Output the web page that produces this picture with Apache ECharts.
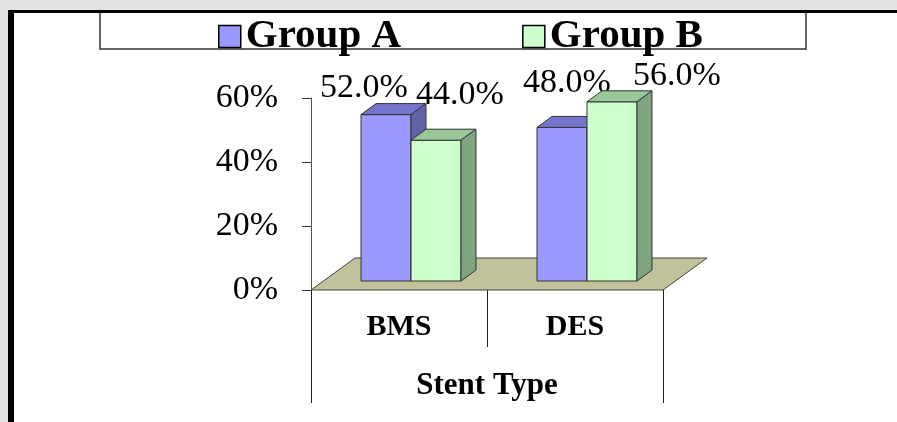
<!DOCTYPE html>
<html>
<head>
<meta charset="utf-8">
<title>Stent Type</title>
<script src="https://cdn.jsdelivr.net/npm/echarts@6/dist/echarts.min.js"></script>
<style>
  html, body { margin: 0; padding: 0; background: #fff; }
  #main { width: 897px; height: 422px; }
</style>
</head>
<body>
<div id="main"></div>
<script>
// data
const categories = ['BMS', 'DES'];
const groupNames = ['Group A', 'Group B'];
const groupA = [52.0, 48.0];
const groupB = [44.0, 56.0];
const yTicks = [0, 20, 40, 60];
const axisTitle = 'Stent Type';

// label nudges, relative to the top front-left corner of each bar
const labelNudgeA = [[3, -27], [30, -44]];
const labelNudgeB = [[49, -45], [90, -26]];

const SERIF = '"Liberation Serif", "Times New Roman", serif';
const EDGE = '#333';

const chart = echarts.init(document.getElementById('main'), null, { renderer: 'canvas' });

function makeBar(faces, slot, nudges) {
  return function (params, api) {
    const i = api.value(0);
    const v = api.value(1);
    const base = api.coord([i, 0]);
    const top = api.coord([i, v]);
    const band = api.size([1, 0])[0];
    const w = band * 0.284;
    const sx = 12, sy = -9;   // bars sit part way back on the floor
    const dx = 15, dy = -11;  // depth of a bar
    const x0 = base[0] - w + slot * w + sx;
    const x1 = x0 + w;
    const yb = base[1] + sy;
    const yt = top[1] + sy;
    const nd = nudges[params.dataIndex];
    return {
      type: 'group',
      children: [
        { type: 'polygon', shape: { points: [[x0, yb], [x1, yb], [x1, yt], [x0, yt]] },
          style: { fill: faces[0], stroke: EDGE, lineWidth: 1 } },
        { type: 'polygon', shape: { points: [[x0, yt], [x1, yt], [x1 + dx, yt + dy], [x0 + dx, yt + dy]] },
          style: { fill: faces[1], stroke: EDGE, lineWidth: 1 } },
        { type: 'polygon', shape: { points: [[x1, yb], [x1 + dx, yb + dy], [x1 + dx, yt + dy], [x1, yt]] },
          style: { fill: faces[2], stroke: EDGE, lineWidth: 1 } },
        { type: 'text', x: x0 + nd[0], y: yt + nd[1], z2: 10,
          style: { text: v.toFixed(1) + '%', fill: '#000', fontSize: 34, fontFamily: SERIF,
                   align: 'center', verticalAlign: 'middle' } }
      ]
    };
  };
}

function renderFloor(params, api) {
  const cs = params.coordSys;
  const y = cs.y + cs.height;
  const dx = 44, dy = -32;
  return {
    type: 'polygon',
    shape: { points: [[cs.x, y], [cs.x + cs.width, y], [cs.x + cs.width + dx, y + dy], [cs.x + dx, y + dy]] },
    style: { fill: '#c1c19b', stroke: '#444', lineWidth: 1 }
  };
}

const option = {
  animation: false,
  graphic: [
    { type: 'rect', shape: { x: 0, y: 0, width: 897, height: 10 }, style: { fill: '#e3e3e3' }, z: 100 },
    { type: 'rect', shape: { x: 0, y: 0, width: 8, height: 422 }, style: { fill: '#e3e3e3' }, z: 100 },
    { type: 'rect', shape: { x: 100, y: 12, width: 706, height: 37 }, style: { fill: 'none', stroke: '#333', lineWidth: 1.5 }, z: 0 },
    { type: 'rect', shape: { x: 8, y: 10, width: 889, height: 3 }, style: { fill: '#000' }, z: 101 },
    { type: 'rect', shape: { x: 8, y: 10, width: 6, height: 412 }, style: { fill: '#000' }, z: 101 }
  ],
  legend: {
    data: groupNames,
    left: 213,
    top: 11,
    icon: 'rect',
    itemWidth: 22,
    itemHeight: 22,
    itemGap: 121,
    itemStyle: { borderColor: '#000', borderWidth: 1.5 },
    textStyle: { fontFamily: SERIF, fontWeight: 'bold', fontSize: 41, color: '#000' }
  },
  grid: { left: 311, top: 98, width: 352, height: 192 },
  xAxis: [
    {
      type: 'category',
      data: categories,
      position: 'bottom',
      axisLine: { show: false },
      axisTick: { show: true, interval: 0, length: 57, lineStyle: { color: '#222', width: 1 } },
      axisLabel: { margin: 22, fontFamily: SERIF, fontWeight: 'bold', fontSize: 30, color: '#000' }
    },
    {
      type: 'category',
      data: [axisTitle],
      position: 'bottom',
      axisLine: { show: false },
      axisTick: { show: true, interval: 0, length: 113, lineStyle: { color: '#222', width: 1 } },
      axisLabel: { margin: 80, fontFamily: SERIF, fontWeight: 'bold', fontSize: 31, color: '#000' }
    }
  ],
  yAxis: {
    type: 'value',
    min: yTicks[0],
    max: yTicks[yTicks.length - 1],
    interval: yTicks[1] - yTicks[0],
    splitLine: { show: false },
    axisLine: { show: true, lineStyle: { color: '#555', width: 1 } },
    axisTick: { show: true, length: 9, lineStyle: { color: '#333' } },
    axisLabel: { margin: 33, formatter: '{value}%', fontFamily: SERIF, fontSize: 34, color: '#000' }
  },
  series: [
    {
      type: 'custom',
      name: 'floor',
      silent: true,
      renderItem: renderFloor,
      data: [[0, 0]],
      z: 1
    },
    {
      type: 'custom',
      name: groupNames[0],
      itemStyle: { color: '#9999ff' },
      renderItem: makeBar(['#9999ff', '#7474cc', '#6262a8'], 0, labelNudgeA),
      encode: { x: 0, y: 1 },
      data: groupA.map((v, i) => [i, v]),
      z: 2
    },
    {
      type: 'custom',
      name: groupNames[1],
      itemStyle: { color: '#ccffcc' },
      renderItem: makeBar(['#ccffcc', '#99c799', '#80a480'], 1, labelNudgeB),
      encode: { x: 0, y: 1 },
      data: groupB.map((v, i) => [i, v]),
      z: 3
    }
  ]
};

chart.setOption(option);
</script>
</body>
</html>
